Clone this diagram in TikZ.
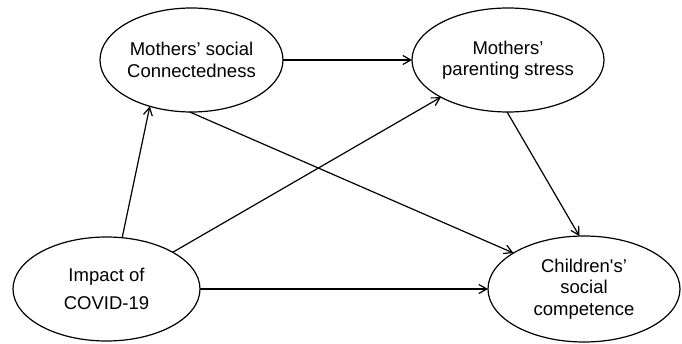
\documentclass[tikz,border=0pt]{standalone}
\usepackage{fontspec}
\setmainfont{Liberation Sans}
\usetikzlibrary{shapes.geometric,arrows.meta}
\begin{document}
\begin{tikzpicture}[x=1pt,y=-1pt,
  latent/.style={ellipse,draw,line width=1.2pt,inner sep=0pt,outer sep=0pt,align=center,
    minimum height=104pt,font=\fontsize{18.5}{21.5}\selectfont},
  pathline/.style={line width=1.2pt,-{Straight Barb[length=8pt,width=9pt]}}]
\useasboundingbox (0,0) rectangle (682,344);
\node[latent,minimum width=183pt] (soc) at (191.5,60) {Mothers’ social\\Connectedness};
\node[latent,minimum width=192pt] (str) at (508,60) {Mothers’\\parenting stress};
\node[latent,minimum width=187pt,font=\fontsize{18.5}{27.5}\selectfont] (cov) at (106.5,289) {Impact of\\COVID-19};
\node[latent,minimum width=192pt,minimum height=106pt] (chi) at (584,289) {Children\textquotesingle s’\\social\\competence};
\draw[pathline] (soc.east) -- (str.west);
\draw[pathline] (cov.73) -- (soc.228);
\draw[pathline] (cov.29) -- (str.209);
\draw[pathline] (soc.268) -- (chi.153);
\draw[pathline] (str.269) -- (chi.95);
\draw[pathline] (cov.east) -- (chi.west);
\end{tikzpicture}
\end{document}
